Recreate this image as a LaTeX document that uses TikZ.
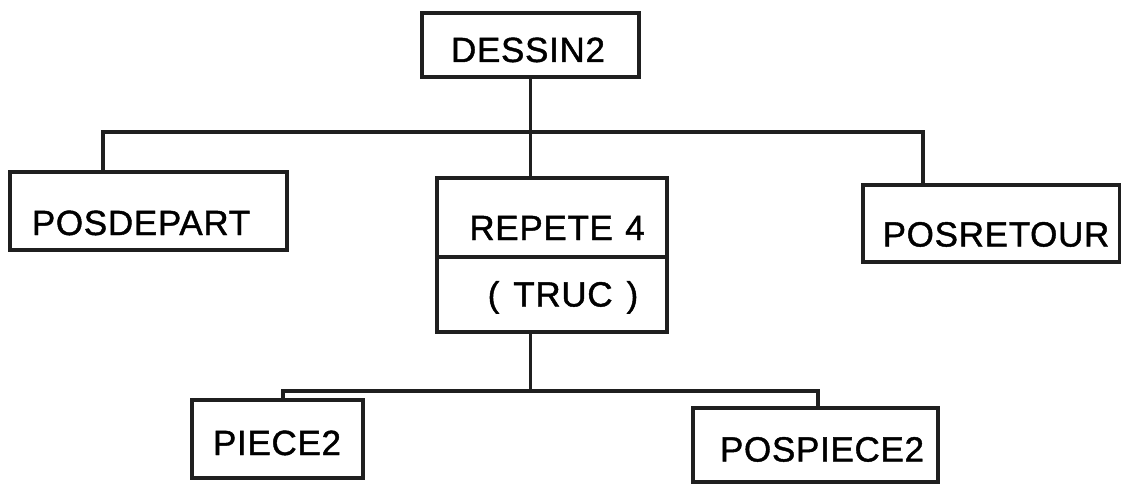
\documentclass[tikz,border=0pt]{standalone}
\usepackage{fontspec}
\setmainfont{Liberation Sans}
\newfontfamily\lblfont{Liberation Sans}[FakeBold=1.2,LetterSpace=2]
\begin{document}
\begin{tikzpicture}[x=1pt,y=-1pt,
  box/.style={draw=black!88,line width=3.8pt,inner sep=0pt,anchor=center},
  lbl/.style={anchor=base,inner sep=0pt,font=\fontsize{35}{42}\lblfont},
  wire/.style={draw=black!88,line width=3.8pt}]
\useasboundingbox (0,0) rectangle (1121,484);
% boxes
\node[box,minimum width=217pt,minimum height=64pt] (dessin) at (530.5,45) {};
\node[box,minimum width=277pt,minimum height=78pt] (posdepart) at (148.5,211) {};
\node[box,minimum width=257pt,minimum height=77pt] (posretour) at (991.5,223.5) {};
\node[box,minimum width=230pt,minimum height=79pt] (rep) at (552,217.5) {};
\node[box,minimum width=230pt,minimum height=75pt] (truc) at (552,294.5) {};
\node[box,minimum width=171pt,minimum height=78pt] (piece) at (277.5,439) {};
\node[box,minimum width=245pt,minimum height=74pt] (pospiece) at (815.5,445) {};
% labels
\node[lbl] (dessin-t) at (528,62) {DESSIN2};
\node[lbl] (posdepart-t) at (141,235) {POSDEPART};
\node[lbl] (posretour-t) at (996,246.5) {POSRETOUR};
\node[lbl] (rep-t) at (557,240) {REPETE\hspace{0.35em}4};
\node[lbl] (truc-t) at (563,306.5) {(\hspace{0.4em}TRUC\hspace{0.4em})};
\node[lbl] (piece-t) at (277,455) {PIECE2};
\node[lbl] (pospiece-t) at (822,461.5) {POSPIECE2};
% connectors
\coordinate (tL) at (103,132);
\coordinate (tR) at (923,132);
\coordinate (bL) at (283,391);
\coordinate (bR) at (818,391);
\draw[wire] (dessin.south) -- (dessin.south |- rep.north);
\draw[wire] (tL |- posdepart.north) -- (tL) -- (tR) -- (tR |- posretour.north);
\draw[wire] (dessin.south |- truc.south) -- (dessin.south |- bL);
\draw[wire] (bL |- piece.north) -- (bL) -- (bR) -- (bR |- pospiece.north);
\end{tikzpicture}
\end{document}
